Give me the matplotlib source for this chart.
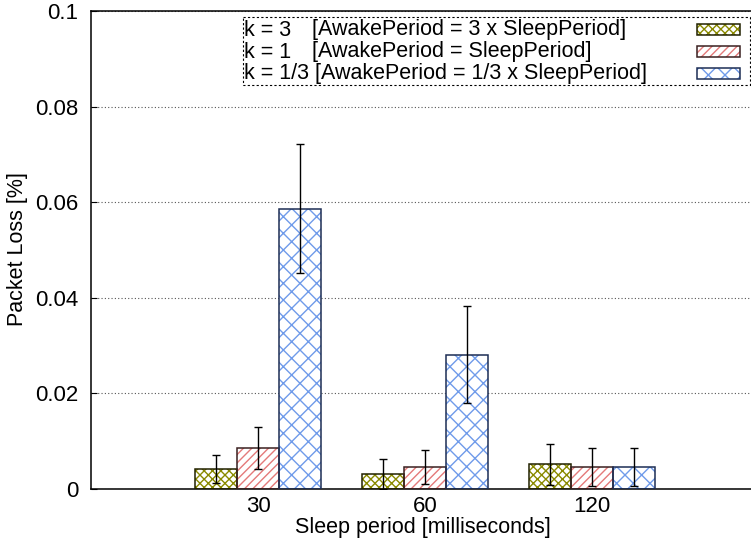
import matplotlib
matplotlib.use('Agg')
import matplotlib.pyplot as plt
import numpy as np
from matplotlib.patches import Rectangle

# packet loss per sleep period, three duty-cycle settings
sleep_periods = ['30', '60', '120']
loss_k3 = [0.0042, 0.0031, 0.0052]
err_k3 = [0.0029, 0.0031, 0.0043]
loss_k1 = [0.0086, 0.0046, 0.0046]
err_k1 = [0.0044, 0.0036, 0.0040]
loss_k13 = [0.0586, 0.0281, 0.0046]
err_k13 = [0.0135, 0.0102, 0.0040]

k_labels = ['k = 3', 'k = 1', 'k = 1/3']
period_labels = ['[AwakePeriod = 3 x SleepPeriod]',
                 '[AwakePeriod = SleepPeriod]',
                 '[AwakePeriod = 1/3 x SleepPeriod]']

plt.rcParams['font.family'] = ['Liberation Sans', 'DejaVu Sans']
plt.rcParams['hatch.linewidth'] = 1.0

W, H = 751, 545
fig = plt.figure(figsize=(W / 100, H / 100), dpi=100)
ax = fig.add_axes([91 / W, 56 / H, 668 / W, 478 / H])

x = np.arange(len(sleep_periods))
width = 0.25
series = [
    (loss_k3, err_k3, '#8a8a00', 'xxxx', '#222200'),
    (loss_k1, err_k1, '#e47a7a', '////', '#3a2020'),
    (loss_k13, err_k13, '#6f9bea', 'xx', '#1d2e55'),
]
for i, (vals, errs, hcol, hatch, ecol) in enumerate(series):
    pos = x + (i - 1) * width
    ax.bar(pos, vals, width, color='white', edgecolor=hcol, hatch=hatch,
           linewidth=0, zorder=2)
    ax.bar(pos, vals, width, fill=False, edgecolor=ecol, linewidth=1.1, zorder=3)
    ax.errorbar(pos, vals, yerr=errs, fmt='none', ecolor='black',
                elinewidth=1, capsize=3, capthick=1, zorder=4)

ax.set_xlim(-1, 3)
ax.set_ylim(0, 0.1)
ax.set_xticks(x)
ax.set_xticklabels(sleep_periods)
ax.set_yticks([0, 0.02, 0.04, 0.06, 0.08, 0.1])
ax.set_yticklabels(['0', '0.02', '0.04', '0.06', '0.08', '0.1'])
ax.tick_params(axis='x', length=0, labelsize=16, pad=5)
ax.tick_params(axis='y', direction='in', length=4, labelsize=16, pad=9)
ax.yaxis.grid(True, linestyle=(0, (1, 2)), color='#555555', linewidth=0.8, zorder=0)
ax.set_axisbelow(True)
for s in ax.spines.values():
    s.set_linewidth(1.1)
ax.spines['right'].set_visible(False)

# axis titles placed in pixel terms
fig.text(423 / W, 1 - 527 / H, 'Sleep period [milliseconds]', fontsize=15.5,
         ha='center', va='center')
fig.text(18 / W, 1 - 249 / H, 'Packet Loss [%]', fontsize=15.5,
         rotation=90, ha='center', va='center')

# key box drawn by hand: text on the left, samples on the right
key = fig.add_axes([0, 0, 1, 1], facecolor='none')
key.set_xlim(0, W)
key.set_ylim(H, 0)
key.axis('off')
key.add_patch(Rectangle((243, 17), 507, 68, fill=False, edgecolor='black',
                        linewidth=0.8, linestyle=(0, (2, 2))))
rows_y = [30, 52, 74]
for i, (_, _, hcol, hatch, ecol) in enumerate(series):
    y = rows_y[i]
    if i < 2:
        key.text(244, y, k_labels[i], fontsize=15.5, va='center', ha='left')
        key.text(312, y, period_labels[i], fontsize=15.5, va='center', ha='left')
    else:
        key.text(244, y, k_labels[i] + ' ' + period_labels[i], fontsize=15.5,
                 va='center', ha='left')
    key.add_patch(Rectangle((697, y - 6.5), 43, 11, facecolor='white',
                            edgecolor=hcol, hatch=hatch, linewidth=0))
    key.add_patch(Rectangle((697, y - 6.5), 43, 11, fill=False,
                            edgecolor=ecol, linewidth=1.1))

fig.savefig('out.png', dpi=100)
